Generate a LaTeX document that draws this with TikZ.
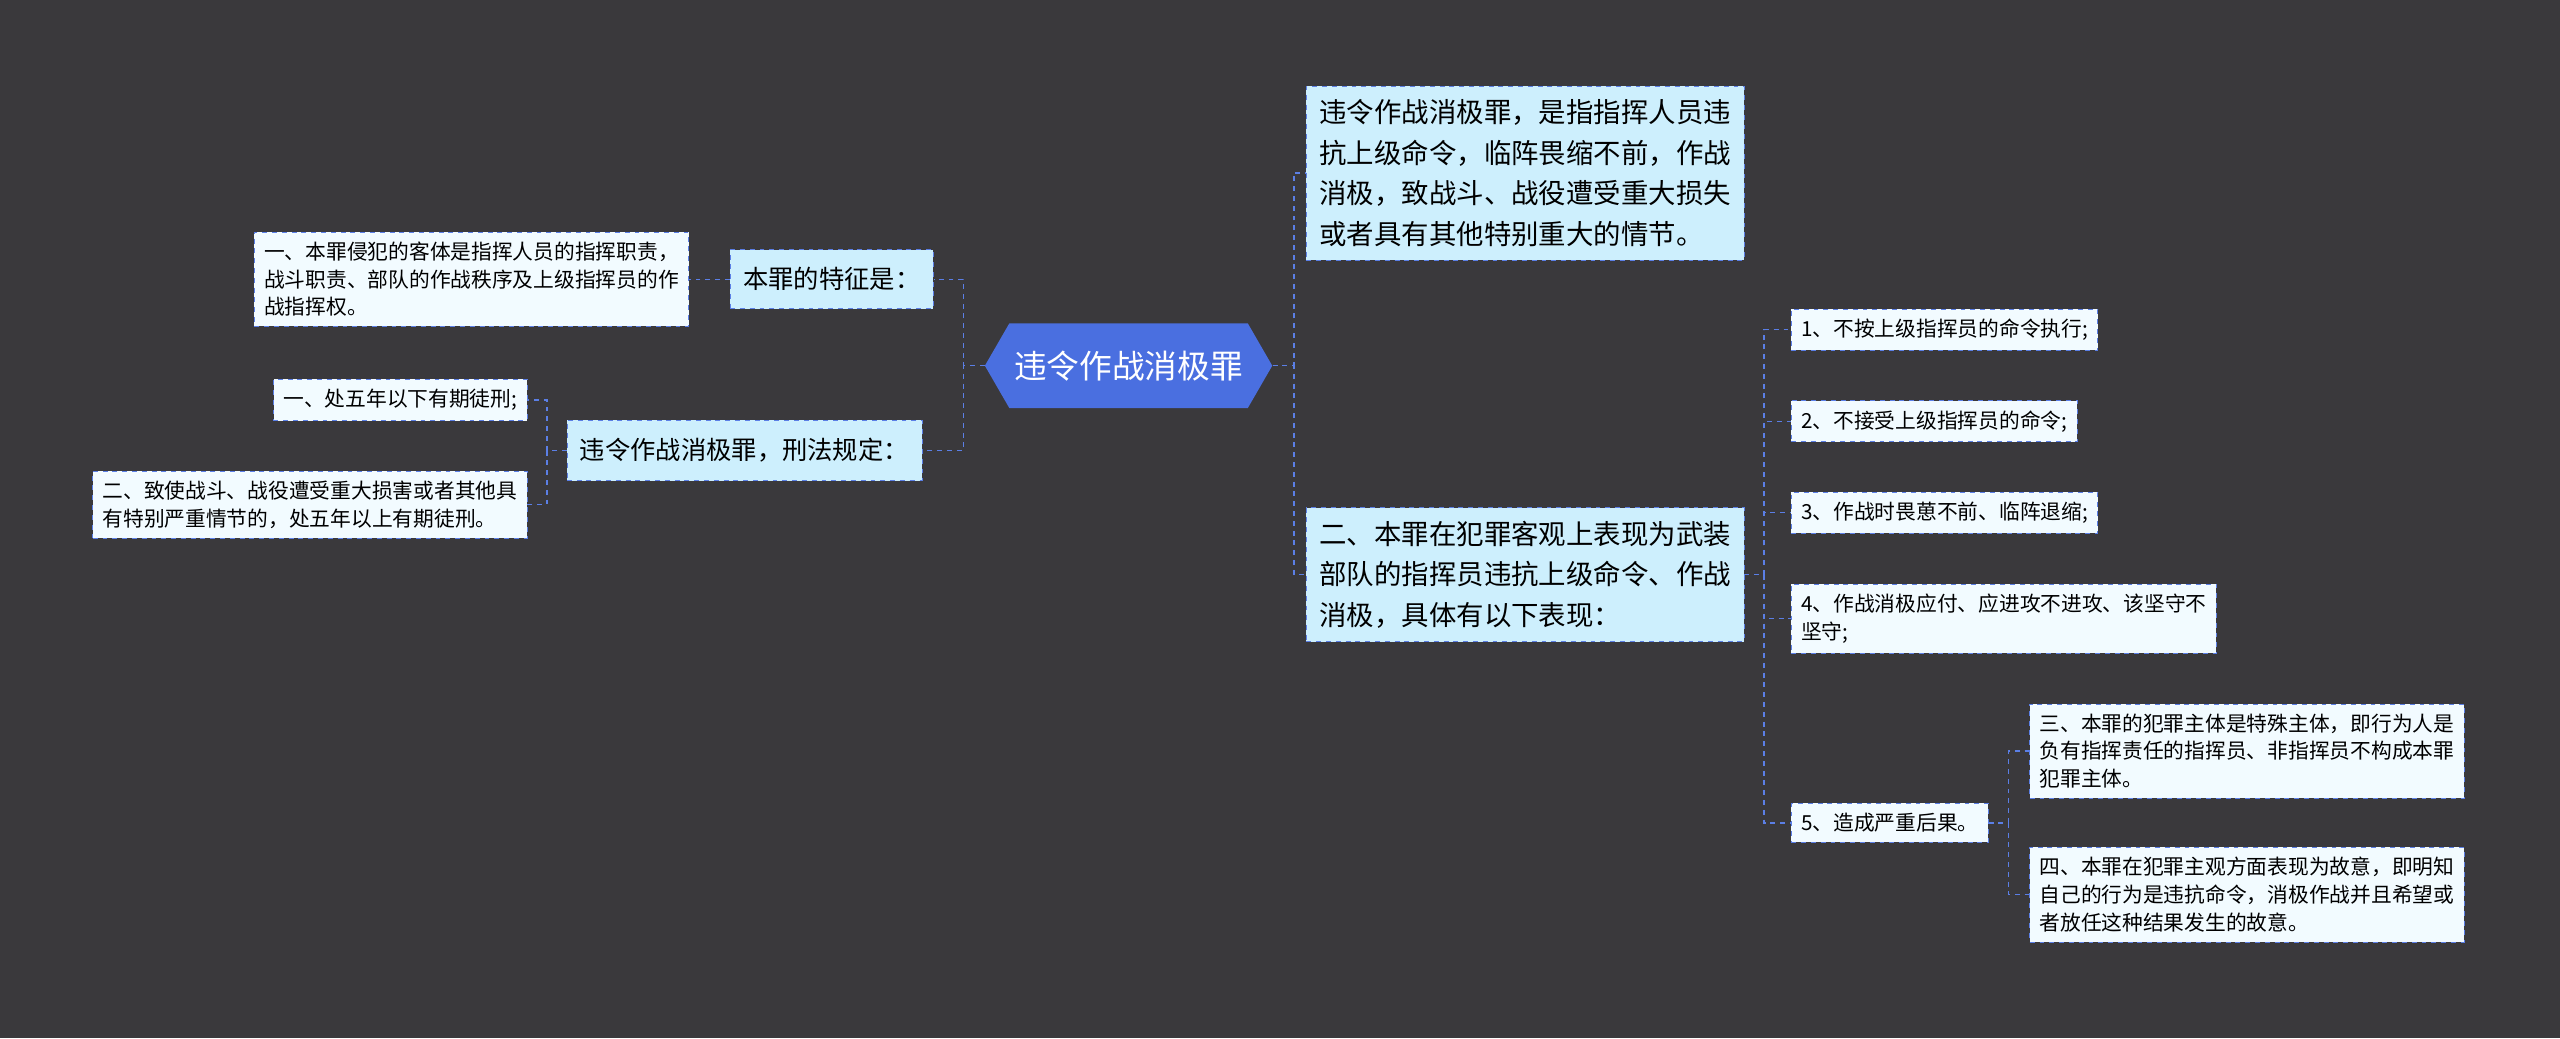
\documentclass[tikz,border=0pt]{standalone}
\usepackage{fontspec}
\setmainfont{Noto Sans CJK SC}
\usetikzlibrary{shapes.symbols}
\definecolor{bg}{HTML}{3A393C}
\definecolor{hub}{HTML}{4A6FE0}
\definecolor{branchfill}{HTML}{CDEFFD}
\definecolor{leaffill}{HTML}{F2FBFF}
\definecolor{linkc}{HTML}{5B7FE6}
\begin{document}
\begin{tikzpicture}[x=1pt,y=-1pt,
  hub/.style={shape=signal, signal to=west and east, signal pointer angle=120, fill=hub, text=white, font=\fontsize{20}{24}\selectfont, minimum height=52pt, inner xsep=3pt, anchor=west},
  branch/.style={fill=branchfill, draw=linkc, dashed, align=left, font=\fontsize{16.8}{25}\selectfont, inner sep=8pt, anchor=west},
  leaf/.style={fill=leaffill, draw=linkc, dashed, align=left, font=\fontsize{12.7}{17}\selectfont, inner sep=6pt, anchor=west},
  link/.style={draw=linkc, dashed, line width=0.8pt}]
\useasboundingbox[fill=bg] (0,0) rectangle (1568,636);

\node[hub] (Hub) at (603,224) {违令作战消极罪};

\node[branch, minimum height=36pt, font=\fontsize{15.5}{25}\selectfont] (Feature) at (447,171) {本罪的特征是：};
\node[branch, minimum height=37pt, font=\fontsize{15.5}{25}\selectfont] (Law) at (347,276) {违令作战消极罪，刑法规定：};
\node[leaf, anchor=east] (Object) at (422,171) {一、本罪侵犯的客体是指挥人员的指挥职责，\\战斗职责、部队的作战秩序及上级指挥员的作\\战指挥权。};
\node[leaf, anchor=east] (Penal1) at (323,245) {一、处五年以下有期徒刑;};
\node[leaf, anchor=east] (Penal2) at (323,309) {二、致使战斗、战役遭受重大损害或者其他具\\有特别严重情节的，处五年以上有期徒刑。};

\node[branch] (Define) at (800,106) {违令作战消极罪，是指指挥人员违\\抗上级命令，临阵畏缩不前，作战\\消极，致战斗、战役遭受重大损失\\或者具有其他特别重大的情节。};
\node[branch] (Objective) at (800,352) {二、本罪在犯罪客观上表现为武装\\部队的指挥员违抗上级命令、作战\\消极，具体有以下表现：};

\node[leaf] (Act1) at (1097,202) {1、不按上级指挥员的命令执行;};
\node[leaf] (Act2) at (1097,258) {2、不接受上级指挥员的命令;};
\node[leaf] (Act3) at (1097,314) {3、作战时畏葸不前、临阵退缩;};
\node[leaf] (Act4) at (1097,379) {4、作战消极应付、应进攻不进攻、该坚守不\\坚守;};
\node[leaf] (Act5) at (1097,504) {5、造成严重后果。};
\node[leaf] (Subject) at (1243,460) {三、本罪的犯罪主体是特殊主体，即行为人是\\负有指挥责任的指挥员、非指挥员不构成本罪\\犯罪主体。};
\node[leaf] (Intent) at (1243,548) {四、本罪在犯罪主观方面表现为故意，即明知\\自己的行为是违抗命令，消极作战并且希望或\\者放任这种结果发生的故意。};

\foreach \n in {Feature,Law}
  \draw[link] (Hub.west) -- ++(-13,0) |- (\n.east);
\draw[link] (Feature.west) -- (Object.east);
\foreach \n in {Penal1,Penal2}
  \draw[link] (Law.west) -- ++(-12,0) |- (\n.east);
\foreach \n in {Define,Objective}
  \draw[link] (Hub.east) -- ++(13,0) |- (\n.west);
\foreach \n in {Act1,Act2,Act3,Act4,Act5}
  \draw[link] (Objective.east) -- ++(12,0) |- (\n.west);
\foreach \n in {Subject,Intent}
  \draw[link] (Act5.east) -- ++(12,0) |- (\n.west);
\end{tikzpicture}
\end{document}
